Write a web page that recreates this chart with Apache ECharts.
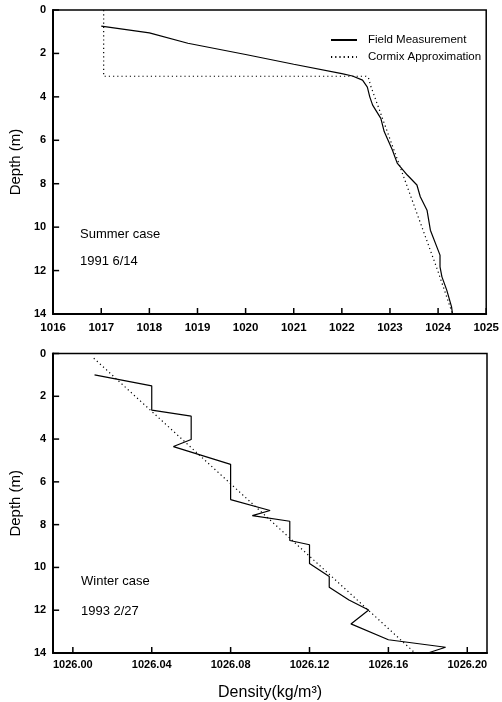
<!DOCTYPE html>
<html>
<head>
<meta charset="utf-8">
<script src="https://cdn.jsdelivr.net/npm/echarts@6/dist/echarts.min.js"></script>
<style>
html,body{margin:0;padding:0;background:#fff;}
#chart{width:502px;height:702px;}
</style>
</head>
<body>
<div id="chart"></div>
<script>
// ---- Summer case (1991 6/14) ----
var summerFieldDensity = [1017.0, 1018.0, 1018.8, 1020.0, 1021.0, 1022.0, 1022.22, 1022.43, 1022.53, 1022.58, 1022.64, 1022.81, 1022.88, 1023.05, 1023.15, 1023.36, 1023.56, 1023.63, 1023.77, 1023.84, 1024.04, 1024.04, 1024.08, 1024.18, 1024.28, 1024.30];
var summerFieldDepth   = [0.74, 1.05, 1.53, 2.05, 2.5, 2.93, 3.04, 3.23, 3.55, 4.0, 4.38, 4.99, 5.6, 6.45, 7.05, 7.6, 8.06, 8.6, 9.22, 10.14, 11.29, 11.83, 12.29, 12.9, 13.67, 14.0];
var summerCormixDensity = [1017.05, 1017.05, 1022.5, 1022.55, 1022.6, 1024.0, 1024.3];
var summerCormixDepth   = [0.0, 3.05, 3.05, 3.1, 3.5, 12.05, 14.0];

// ---- Winter case (1993 2/27) ----
var winterFieldDensity = [1026.011, 1026.040, 1026.040, 1026.060, 1026.060, 1026.051, 1026.080, 1026.080, 1026.100, 1026.091, 1026.110, 1026.110, 1026.120, 1026.120, 1026.130, 1026.130, 1026.140, 1026.150, 1026.141, 1026.160, 1026.189, 1026.180];
var winterFieldDepth   = [1.0, 1.51, 2.65, 2.93, 4.02, 4.35, 5.18, 6.83, 7.34, 7.58, 7.84, 8.74, 8.94, 9.82, 10.42, 10.93, 11.52, 11.99, 12.64, 13.38, 13.73, 14.0];
var winterCormixDensity = [1026.0106, 1026.1735];
var winterCormixDepth   = [0.22, 14.0];

// ---- Axis ranges and ticks ----
var summerXRange = [1016, 1025];
var winterXRange = [1025.99, 1026.21];
var depthRange = [0, 14];
var summerXTicks = [1016, 1017, 1018, 1019, 1020, 1021, 1022, 1023, 1024, 1025];
var winterXTicks = [1026.00, 1026.04, 1026.08, 1026.12, 1026.16, 1026.20];
var depthTicks = [0, 2, 4, 6, 8, 10, 12, 14];

var seriesNames = ['Field Measurement', 'Cormix Approximation'];
var yTitle = 'Depth (m)';
var xTitle = 'Density(kg/m\u00B3)';

function zip(a, b) { return a.map(function (v, i) { return [v, b[i]]; }); }

var FONT = '"Liberation Sans", Arial, sans-serif';
var solidStyle = { color: '#000', width: 1.2, type: 'solid' };
var dotStyle = { color: '#000', width: 1.2, type: [1.2, 3] };
var TICK_LEN = 6;

// tick marks drawn through the axes' own scales (api.coord)
function tickSeries(gridIdx, data, vertical) {
  return {
    type: 'custom', xAxisIndex: gridIdx, yAxisIndex: gridIdx, silent: true, z: 5,
    data: data,
    renderItem: function (params, api) {
      var p = api.coord([api.value(0), api.value(1)]);
      var x2 = vertical ? p[0] : p[0] + TICK_LEN;
      var y2 = vertical ? p[1] - TICK_LEN : p[1];
      return { type: 'line', shape: { x1: p[0], y1: p[1], x2: x2, y2: y2 }, style: { stroke: '#000', lineWidth: 1.5 } };
    }
  };
}

function yAxisCfg(gridIndex) {
  return {
    type: 'value', gridIndex: gridIndex, inverse: true,
    min: depthRange[0], max: depthRange[1], interval: 2,
    name: yTitle, nameLocation: 'middle', nameGap: 30,
    nameTextStyle: { fontFamily: FONT, fontSize: 15, color: '#000' },
    axisLine: { show: true, onZero: false, lineStyle: { color: '#000', width: 2 } },
    axisTick: { show: false },
    axisLabel: { fontFamily: FONT, fontSize: 11, fontWeight: 'bold', color: '#000', margin: 7 },
    splitLine: { show: false }
  };
}

var chart = echarts.init(document.getElementById('chart'), null, { renderer: 'canvas' });
chart.setOption({
  animation: false,
  backgroundColor: '#fff',
  grid: [
    { left: 50, top: 10, width: 438, height: 304, show: true, borderColor: '#000', borderWidth: 1.5 },
    { left: 48, top: 353.5, width: 439, height: 301.5, show: true, borderColor: '#000', borderWidth: 1.5 }
  ],
  legend: {
    data: seriesNames,
    left: 325, top: 29, orient: 'vertical',
    itemWidth: 26, itemHeight: 10, itemGap: 5,
    itemStyle: { opacity: 0, color: 'rgba(0,0,0,0)', borderWidth: 0 },
    textStyle: { fontFamily: FONT, fontSize: 11.5, color: '#000', padding: [0, 0, 0, 6] }
  },
  xAxis: [
    {
      type: 'value', gridIndex: 0, min: summerXRange[0], max: summerXRange[1], interval: 1, position: 'bottom',
      axisLine: { show: true, onZero: false, lineStyle: { color: '#000', width: 2 } },
      axisTick: { show: false },
      axisLabel: { fontFamily: FONT, fontSize: 11.5, fontWeight: 'bold', color: '#000', margin: 8,
        formatter: function (v) { return String(v); } },
      splitLine: { show: false }
    },
    {
      type: 'value', gridIndex: 1, min: winterXRange[0], max: winterXRange[1], position: 'bottom',
      name: xTitle, nameLocation: 'middle', nameGap: 32,
      nameTextStyle: { fontFamily: FONT, fontSize: 16, color: '#000' },
      axisLine: { show: true, onZero: false, lineStyle: { color: '#000', width: 2 } },
      axisTick: { show: false },
      axisLabel: { fontFamily: FONT, fontSize: 11, fontWeight: 'bold', color: '#000', margin: 6, customValues: winterXTicks,
        formatter: function (v) { return Number(v).toFixed(2); } },
      splitLine: { show: false }
    }
  ],
  yAxis: [yAxisCfg(0), yAxisCfg(1)],
  series: [
    { name: seriesNames[0], type: 'line', xAxisIndex: 0, yAxisIndex: 0, data: zip(summerFieldDensity, summerFieldDepth),
      symbol: 'none', lineStyle: solidStyle, itemStyle: { color: '#000' } },
    { name: seriesNames[1], type: 'line', xAxisIndex: 0, yAxisIndex: 0, data: zip(summerCormixDensity, summerCormixDepth),
      symbol: 'none', lineStyle: dotStyle, itemStyle: { color: '#000' } },
    { name: seriesNames[0], type: 'line', xAxisIndex: 1, yAxisIndex: 1, data: zip(winterFieldDensity, winterFieldDepth),
      symbol: 'none', lineStyle: solidStyle, itemStyle: { color: '#000' } },
    { name: seriesNames[1], type: 'line', xAxisIndex: 1, yAxisIndex: 1, data: zip(winterCormixDensity, winterCormixDepth),
      symbol: 'none', lineStyle: dotStyle, itemStyle: { color: '#000' } },
    tickSeries(0, summerXTicks.map(function (v) { return [v, depthRange[1]]; }), true),
    tickSeries(0, depthTicks.map(function (v) { return [summerXRange[0], v]; }), false),
    tickSeries(1, winterXTicks.map(function (v) { return [v, depthRange[1]]; }), true),
    tickSeries(1, depthTicks.map(function (v) { return [winterXRange[0], v]; }), false)
  ],
  graphic: [
    { type: 'text', left: 80, top: 228, style: { text: 'Summer case', fontFamily: FONT, fontSize: 13, fill: '#000' } },
    { type: 'text', left: 80, top: 255, style: { text: '1991 6/14', fontFamily: FONT, fontSize: 13, fill: '#000' } },
    { type: 'text', left: 81, top: 575, style: { text: 'Winter case', fontFamily: FONT, fontSize: 13, fill: '#000' } },
    { type: 'text', left: 81, top: 605, style: { text: '1993 2/27', fontFamily: FONT, fontSize: 13, fill: '#000' } }
  ]
});
</script>
</body>
</html>
